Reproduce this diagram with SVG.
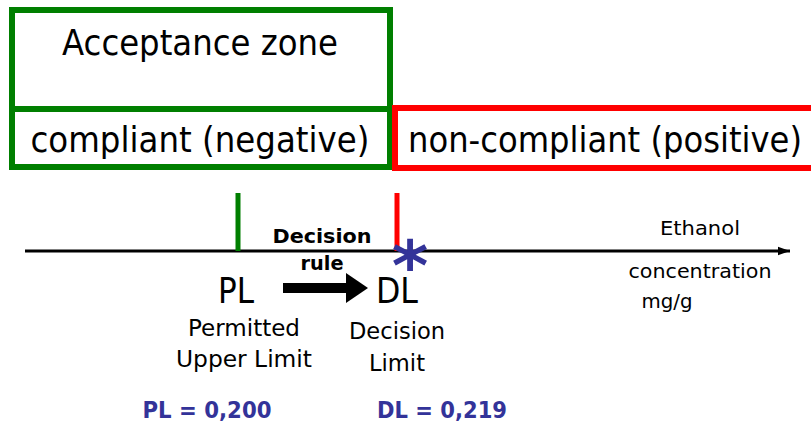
<svg xmlns="http://www.w3.org/2000/svg" width="811" height="424" viewBox="0 0 811 424">
<defs>
<style>
text{font-family:"DejaVu Sans","Liberation Sans",sans-serif;fill:#000}
.big{font-size:35px}
.mid{font-size:23px}
.sm{font-size:19px}
.b{font-weight:bold}
.blue{fill:#333399}
.g{fill:#fff;stroke:#007f00;stroke-width:6}
.r{fill:#fff;stroke:#ff0000;stroke-width:6}
</style>
<marker id="ah" viewBox="0 0 10 10" refX="10" refY="5" markerWidth="4" markerHeight="4" orient="auto" markerUnits="strokeWidth"><path d="M0,1.5 L10,5 L0,8.5 z" fill="#000"/></marker>
</defs>
<g id="acceptance">
<rect class="g" x="12" y="10" width="378" height="99"/>
<text class="big" x="200" y="55" text-anchor="middle" textLength="276" lengthAdjust="spacingAndGlyphs">Acceptance zone</text>
</g>
<g id="compliant">
<rect class="g" x="12" y="109" width="378" height="58"/>
<text class="big" x="200" y="152" text-anchor="middle" textLength="339" lengthAdjust="spacingAndGlyphs">compliant (negative)</text>
</g>
<g id="noncompliant">
<rect class="r" x="395" y="108" width="420" height="60"/>
<text class="big" x="605" y="152" text-anchor="middle" textLength="394" lengthAdjust="spacingAndGlyphs">non-compliant (positive)</text>
</g>
<g id="connectors">
<line x1="25" y1="251" x2="790" y2="251" stroke="#000" stroke-width="3" marker-end="url(#ah)"/>
<line x1="238" y1="193" x2="238" y2="251" stroke="#007f00" stroke-width="5"/>
<line x1="397" y1="193" x2="397" y2="251" stroke="#ff0000" stroke-width="5"/>
<line x1="283" y1="288" x2="349" y2="288" stroke="#000" stroke-width="10"/>
<path d="M346,273 L368,288 L346,303 z" fill="#000"/>
</g>
<g id="axis-label">
<text class="sm" x="700" y="235" text-anchor="middle" textLength="80" lengthAdjust="spacingAndGlyphs">Ethanol</text>
<text class="sm" x="700" y="278" text-anchor="middle" textLength="143" lengthAdjust="spacingAndGlyphs">concentration</text>
<text class="sm" x="667" y="308" text-anchor="middle" textLength="51" lengthAdjust="spacingAndGlyphs">mg/g</text>
</g>
<g id="decision-rule">
<text class="sm b" x="322" y="243" text-anchor="middle" textLength="99" lengthAdjust="spacingAndGlyphs">Decision</text>
<text class="sm b" x="322" y="270" text-anchor="middle" textLength="43" lengthAdjust="spacingAndGlyphs">rule</text>
</g>
<g id="star">
<text class="b blue" x="410" y="290" text-anchor="middle" font-size="70">*</text>
</g>
<g id="PL">
<text class="big" x="236" y="303" text-anchor="middle" textLength="36" lengthAdjust="spacingAndGlyphs">PL</text>
<text class="mid" x="244" y="336" text-anchor="middle" textLength="112" lengthAdjust="spacingAndGlyphs">Permitted</text>
<text class="mid" x="244" y="367" text-anchor="middle" textLength="136" lengthAdjust="spacingAndGlyphs">Upper Limit</text>
<text class="mid b blue" x="207" y="418" text-anchor="middle" textLength="129" lengthAdjust="spacingAndGlyphs">PL = 0,200</text>
</g>
<g id="DL">
<text class="big" x="397" y="303" text-anchor="middle" textLength="42" lengthAdjust="spacingAndGlyphs">DL</text>
<text class="mid" x="397" y="339" text-anchor="middle" textLength="96" lengthAdjust="spacingAndGlyphs">Decision</text>
<text class="mid" x="397" y="371" text-anchor="middle" textLength="56" lengthAdjust="spacingAndGlyphs">Limit</text>
<text class="mid b blue" x="442" y="418" text-anchor="middle" textLength="130" lengthAdjust="spacingAndGlyphs">DL = 0,219</text>
</g>
</svg>
